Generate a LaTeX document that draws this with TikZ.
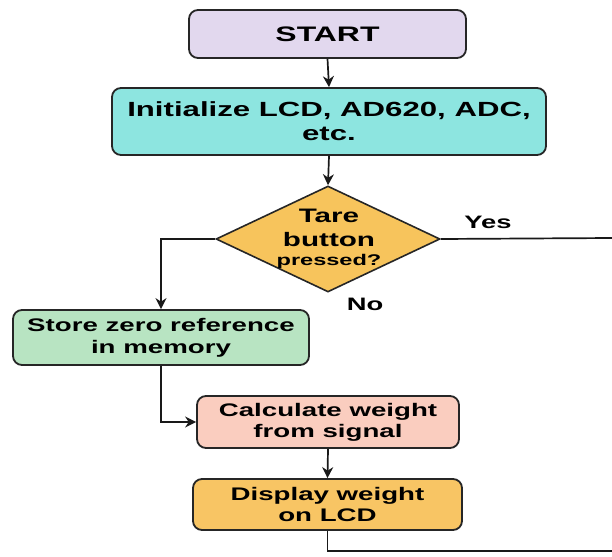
\documentclass[tikz,border=0pt]{standalone}
\usepackage{fontspec}
\setmainfont[FakeStretch=1.52]{Liberation Sans}
\usetikzlibrary{shapes.geometric,arrows.meta}
\definecolor{cStart}{HTML}{E2D8EE}
\definecolor{cInit}{HTML}{8DE5E0}
\definecolor{cTare}{HTML}{F7C45C}
\definecolor{cStore}{HTML}{B8E4C2}
\definecolor{cCalc}{HTML}{FACDBF}
\definecolor{cDisp}{HTML}{F8C564}
\tikzset{
  box/.style={draw=black!85, line width=1.8pt, rounded corners=9pt, align=center,
    font=\bfseries, inner sep=0pt},
  flow/.style={draw=black!90, line width=1.7pt, -{Stealth[length=11pt,width=11pt]}},
  link/.style={draw=black!90, line width=1.7pt},
  lbl/.style={font=\bfseries\fontsize{18}{20}\selectfont}
}
\begin{document}
\begin{tikzpicture}[x=1pt,y=-1pt]
\useasboundingbox (0,0) rectangle (612,556);
\fill[white] (0,0) rectangle (612,556);
% process boxes
\node[box, fill=cStart, minimum width=277pt, minimum height=48pt,
  font=\bfseries\fontsize{21}{24}\selectfont] (start) at (327.5,34) {START};
\node[box, fill=cInit, minimum width=434pt, minimum height=67pt,
  font=\bfseries\fontsize{20.5}{24}\selectfont] (init) at (329,121.5) {Initialize LCD, AD620, ADC,\\etc.};
\node[draw=black!85, line width=1.6pt, fill=cTare, diamond, aspect=2.1,
  minimum width=224pt, minimum height=106pt, inner sep=0pt, align=center] (tare) at (328,239) {};
\node[align=center, font=\bfseries\fontsize{19.5}{24}\selectfont] (taretxt) at (329,228) {Tare\\button};
\node[font=\bfseries\fontsize{15.5}{18}\selectfont] (taretxt2) at (329,261) {pressed?};
\node[box, fill=cStore, minimum width=296pt, minimum height=55pt,
  font=\bfseries\fontsize{18.2}{22}\selectfont] (store) at (161,337.5) {Store zero reference\\in memory};
\node[box, fill=cCalc, minimum width=262pt, minimum height=52pt,
  font=\bfseries\fontsize{18.2}{21}\selectfont] (calc) at (328,422) {Calculate weight\\from signal};
\node[box, fill=cDisp, minimum width=269pt, minimum height=51pt,
  font=\bfseries\fontsize{18.2}{21}\selectfont] (disp) at (327.5,504.5) {Display weight\\on LCD};
% branch labels
\node[lbl] (yes) at (488,222) {Yes};
\node[lbl] (no) at (365,304) {No};
% loose ends running off the right edge
\coordinate (yesend) at (612,238);
\coordinate (loopend) at (612,551);
% connectors
\draw[flow] (start.south) -- (init.north);
\draw[flow] (init.south) -- (tare.north);
\draw[link] (tare.east) -- (yesend);
\draw[flow] (tare.west) -| (store.north);
\draw[flow] (store.south) |- (calc.west);
\draw[flow] (calc.south) -- (disp.north);
\draw[link] (disp.south) |- (loopend);
\end{tikzpicture}
\end{document}
